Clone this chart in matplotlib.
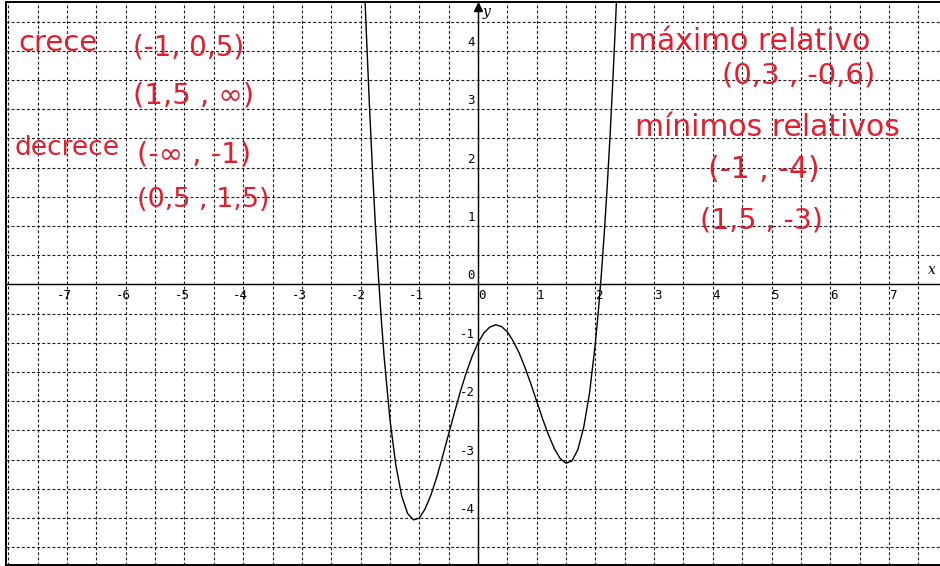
import numpy as np
import matplotlib
matplotlib.use("Agg")
import matplotlib.pyplot as plt

# Curve points (x, y)
curve_x = [-1.925, -1.9, -1.85, -1.8, -1.75, -1.7, -1.65, -1.6, -1.5, -1.4,
           -1.3, -1.2, -1.1, -1.0, -0.9, -0.8, -0.7, -0.6, -0.5, -0.4, -0.3,
           -0.2, -0.1, 0.0, 0.1, 0.2, 0.3, 0.4, 0.5, 0.6, 0.7, 0.8, 0.9, 1.0,
           1.1, 1.2, 1.3, 1.4, 1.5, 1.6, 1.7, 1.8, 1.9, 2.0, 2.05, 2.1, 2.15,
           2.2, 2.25, 2.3, 2.35, 2.36]
curve_y = [4.88, 4.26, 3.08, 2.01, 1.05, 0.2, -0.56, -1.23, -2.31, -3.09,
           -3.62, -3.92, -4.03, -4.0, -3.84, -3.6, -3.29, -2.93, -2.56, -2.19,
           -1.83, -1.51, -1.23, -1.0, -0.83, -0.73, -0.69, -0.72, -0.81, -0.97,
           -1.17, -1.42, -1.7, -2.0, -2.3, -2.57, -2.81, -2.98, -3.06, -3.02,
           -2.83, -2.45, -1.86, -1.0, -0.46, 0.16, 0.86, 1.66, 2.55, 3.55,
           4.65, 4.89]

# Axis labels
x_labels = [-7, -6, -5, -4, -3, -2, -1, 0, 1, 2, 3, 4, 5, 6, 7]
y_labels = [-4, -3, -2, -1, 0, 1, 2, 3, 4]

# Handwritten notes
notes = ["crece", "(-1, 0,5)", "(1,5 , \u221e)",
         "decrece", "(-\u221e , -1)", "(0,5 , 1,5)",
         "m\u00e1ximo relativo", "(0,3 , -0,6)",
         "m\u00ednimos relativos", "(-1 , -4)", "(1,5 , -3)"]

# where each note sits: left edge and vertical centre in pixels, font size
note_left = [18, 133, 133, 15, 137, 137, 628, 722, 635, 708, 700]
note_mid = [43, 48, 96, 148, 155, 200, 42, 76, 128, 170, 221]
note_size = [21, 20, 21, 19, 21, 19.5, 21.5, 21, 21.5, 21.5, 20.5]

W, H = 940, 566
fig = plt.figure(figsize=(W / 100, H / 100), dpi=100)
fig.patch.set_facecolor("white")

# axes box in pixels: left 6, top 2, bottom 565, right runs off the page
ax = fig.add_axes([6 / W, 1 - 565 / H, 1 - 6 / W, 563 / H])
x0_px, y0_px, ux, uy = 478, 284.5, 58.7, 58.4

# dotted grid every half unit
ax.set_xticks(np.arange(-8, 8.01, 0.5))
ax.set_yticks(np.arange(-5, 5.01, 0.5))
ax.set_xlim((6 - x0_px) / ux, (W - x0_px) / ux)
ax.set_ylim((y0_px - 565) / uy, (y0_px - 2) / uy)
ax.tick_params(length=0, labelbottom=False, labelleft=False)
ax.grid(True, color="#1a1a1a", linewidth=0.8, linestyle=(0, (2.6, 2.0)))
ax.set_axisbelow(True)

for side in ["top", "left", "bottom"]:
    ax.spines[side].set_linewidth(1.4)
    ax.spines[side].set_color("black")
ax.spines["right"].set_visible(False)

# coordinate axes
ax.axhline(0, color="black", linewidth=1.0, zorder=2)
ax.axvline(0, color="black", linewidth=1.0, zorder=2)
ax.plot([0], [(y0_px - 7.5) / uy], marker="^", color="black", markersize=6,
        clip_on=False, zorder=3)
ax.text(0.15, (y0_px - 12) / uy, "y", fontsize=10, family="DejaVu Serif",
        style="italic", ha="center", va="center")
ax.text((928 - x0_px) / ux, (y0_px - 270) / uy, "x", fontsize=10,
        family="DejaVu Serif", style="italic", ha="left", va="center")

# tick numbers
for v in x_labels:
    dx = -10 if v < 0 else 0
    ax.annotate(str(v), xy=(v, 0), xytext=(dx, -11.5), textcoords="offset pixels",
                ha="left", va="center", fontsize=9, family="DejaVu Sans Mono",
                color="black")
for v in y_labels:
    ax.annotate(str(v), xy=(0, v), xytext=(-3, 8.5), textcoords="offset pixels",
                ha="right", va="center", fontsize=9, family="DejaVu Sans Mono",
                color="black")

# the function
ax.plot(curve_x, curve_y, color="black", linewidth=1.0, zorder=4,
        solid_joinstyle="round")

# red handwritten notes
red = "#e01e2d"
for s, lx, my, fs in zip(notes, note_left, note_mid, note_size):
    ax.text((lx - x0_px) / ux, (y0_px - my) / uy, s, color=red,
            fontsize=fs, family="DejaVu Sans", ha="left", va="center", zorder=5)

fig.savefig("out.png", dpi=100, facecolor="white")
